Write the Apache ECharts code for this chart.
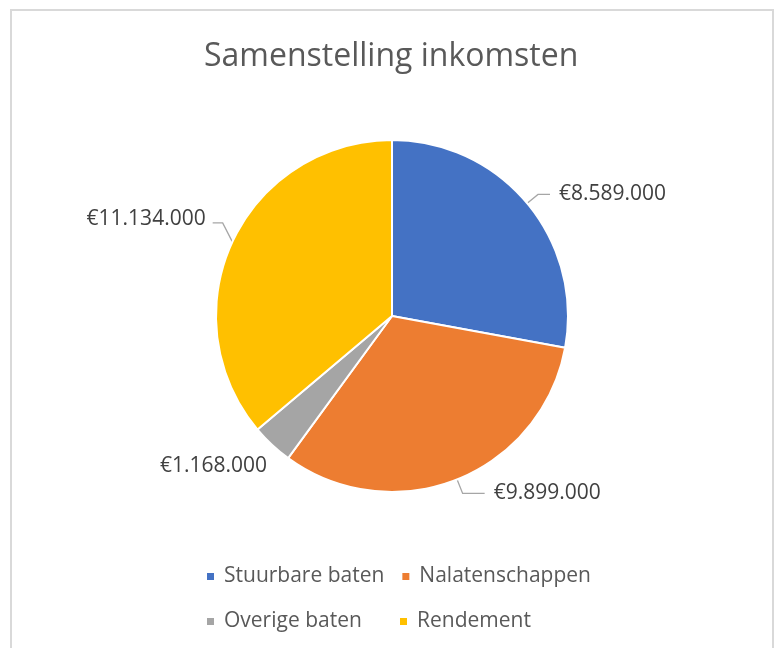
<!DOCTYPE html>
<html>
	<head>
		<meta charset="UTF-8">
		<title>Samenstelling inkomsten</title>
		<script type="text/javascript" src="https://cdn.jsdelivr.net/npm/echarts@6/dist/echarts.min.js"></script>
		<style>
			html, body { margin: 0; padding: 0; background: #fff; }
		</style>
	</head>
<body>
	<div id="main" style="width: 777px; height: 648px;"></div>
	<script type="text/javascript">
		// gegevens
		var categories = ['Stuurbare baten', 'Nalatenschappen', 'Overige baten', 'Rendement'];
		var values = [8589000, 9899000, 1168000, 11134000];
		var colors = ['#4472C4', '#ED7D31', '#A5A5A5', '#FFC000'];

		function euro(v) {
			return '€' + String(v).replace(/\B(?=(\d{3})+(?!\d))/g, '.');
		}

		// leader lines zoals in Excel, per segment iets anders
		var lineLen = [14, 15, 22, 14];
		var lineLen2 = [12, 22, 0, 14];
		var lineShow = [true, true, false, true];
		var labelShiftX = [0, 0, 19, 9];
		var labelShiftY = [0, 0, 5, -17];

		var data = [];
		for (var i = 0; i < categories.length; i++) {
			data.push({
				name: categories[i],
				value: values[i],
				itemStyle: { color: colors[i] },
				labelLine: { show: lineShow[i], length: lineLen[i], length2: lineLen2[i] }
			});
		}

		var chart = echarts.init(document.getElementById('main'));
		var option = {
			backgroundColor: '#ffffff',
			animation: false,
			title: {
				text: 'Samenstelling inkomsten',
				left: 199,
				top: 36,
				textStyle: {
					fontFamily: 'Open Sans',
					fontSize: 32,
					fontWeight: 'normal',
					color: '#595959'
				}
			},
			graphic: [{
				type: 'rect',
				shape: { x: 11, y: 10, width: 762, height: 700 },
				style: { fill: 'none', stroke: '#d9d9d9', lineWidth: 2 },
				silent: true
			}],
			legend: {
				left: 205,
				top: 562,
				width: 400,
				padding: 0,
				itemWidth: 9,
				itemHeight: 9,
				itemGap: 16,
				icon: 'rect',
				formatter: function (name) { return '{a|' + name + '}'; },
				textStyle: {
					fontFamily: 'Open Sans',
					fontSize: 21,
					lineHeight: 29,
					color: '#595959',
					rich: {
						a: {
							fontFamily: 'Open Sans',
							fontSize: 21,
							color: '#595959',
							width: 158,
							lineHeight: 29,
							padding: [0, 0, 0, 4]
						}
					}
				},
				data: categories
			},
			series: [{
				type: 'pie',
				center: [392, 316],
				radius: 176,
				startAngle: 90,
				clockwise: true,
				itemStyle: { borderColor: '#ffffff', borderWidth: 2 },
				label: {
					show: true,
					position: 'outside',
					formatter: function (p) { return euro(p.value); },
					fontFamily: 'Open Sans',
					fontSize: 21,
					color: '#404040',
					distanceToLabelLine: 9
				},
				labelLine: {
					show: true,
					length: 14,
					length2: 12,
					lineStyle: { color: '#a6a6a6', width: 1.3 }
				},
				labelLayout: function (p) {
					var i = p.dataIndex;
					if (labelShiftX[i] === 0 && labelShiftY[i] === 0) {
						return {};
					}
					var r = p.labelRect;
					var left = p.align !== 'left';
					var tx = (left ? r.x + r.width : r.x) + labelShiftX[i];
					var ty = r.y + r.height / 2 + labelShiftY[i];
					var res = { x: tx, y: ty, align: left ? 'right' : 'left', verticalAlign: 'middle' };
					// leader line: van de rand van het segment schuin naar boven, dan horizontaal naar de tekst
					if (lineShow[i] && p.labelLinePoints) {
						var p0 = p.labelLinePoints[0];
						var dir = left ? 1 : -1;
						var endX = tx + dir * 7;
						var ly = ty + 4;
						res.labelLinePoints = [[p0[0], p0[1]], [endX + dir * 10, ly], [endX, ly]];
					}
					return res;
				},
				emphasis: { disabled: true },
				data: data
			}]
		};
		chart.setOption(option);
	</script>
</body>
</html>
